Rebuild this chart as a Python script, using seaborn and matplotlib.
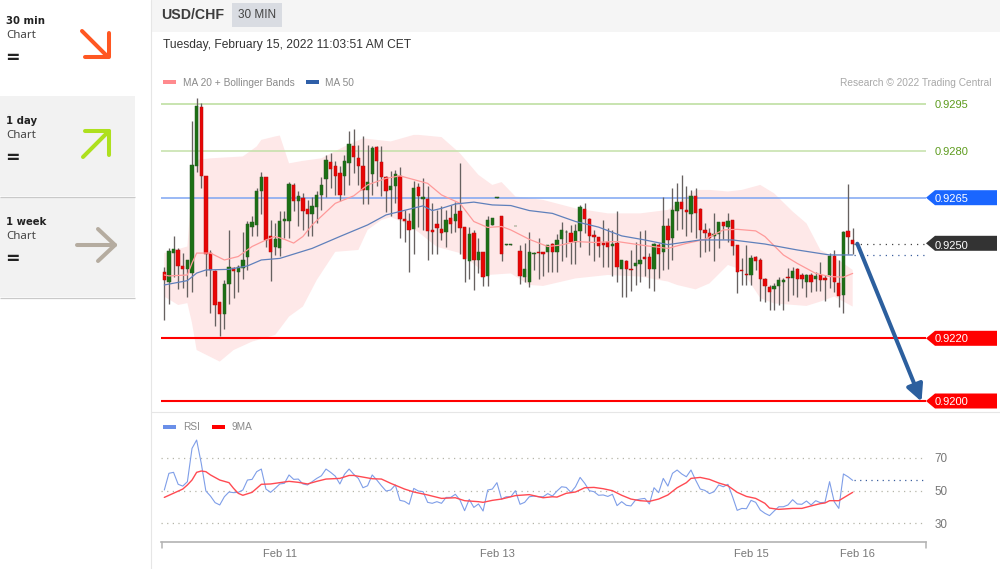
import numpy as np
import pandas as pd
import matplotlib
matplotlib.use("Agg")
import matplotlib.pyplot as plt
from matplotlib.patches import Rectangle, Polygon
import seaborn as sns

# ---- data: quotes in 1e-5 CHF ----
open_pts = [92411,92382,92474,92483,92432,92422,92409,92750,92940,92720,
92473,92417,92317,92278,92374,92425,92414,92425,92459,92558,
92563,92670,92716,92528,92492,92490,92575,92575,92690,92641,
92648,92613,92597,92620,92659,92710,92763,92750,92728,92718,
92760,92817,92776,92750,92675,92726,92812,92763,92715,92675,
92686,92720,92582,92576,92550,92684,92646,92646,92547,92565,
92551,92540,92584,92576,92606,92555,92448,92536,92450,92476,
92400,92563,92650,92590,92500,92500,92560,92480,92398,92382,
92470,92477,92478,92478,92502,92478,92518,92540,92536,92510,
92544,92614,92581,92531,92523,92504,92508,92496,92504,92423,
92447,92422,92433,92439,92459,92461,92423,92500,92477,92559,
92521,92609,92636,92611,92599,92654,92614,92546,92537,92529,
92533,92573,92558,92579,92499,92419,92405,92403,92459,92451,
92391,92366,92359,92369,92379,92398,92394,92421,92403,92380,
92404,92391,92402,92394,92402,92465,92378,92339,92544,92516]
close_pts = [92387,92480,92486,92432,92422,92450,92755,92942,92721,92470,
92419,92308,92278,92374,92428,92416,92430,92451,92566,92573,
92673,92715,92515,92476,92518,92575,92581,92694,92641,92654,
92606,92597,92624,92660,92691,92771,92741,92720,92660,92768,
92821,92780,92750,92675,92699,92808,92766,92716,92673,92688,
92725,92581,92575,92547,92680,92654,92651,92545,92540,92552,
92536,92579,92567,92598,92553,92453,92534,92450,92476,92398,
92579,92584,92653,92469,92501,92501,92561,92400,92422,92478,
92474,92472,92469,92499,92478,92515,92546,92542,92510,92544,
92619,92582,92529,92523,92497,92499,92493,92503,92429,92451,
92423,92418,92440,92450,92455,92423,92502,92471,92560,92515,
92611,92636,92613,92604,92656,92600,92547,92537,92520,92534,
92572,92559,92576,92496,92413,92416,92402,92456,92449,92389,
92369,92350,92369,92387,92387,92392,92415,92391,92389,92403,
92382,92400,92386,92387,92464,92379,92336,92542,92523,92503]
high_pts = [92430,92489,92528,92489,92473,92451,92894,92968,92952,92720,
92483,92419,92317,92387,92547,92430,92435,92539,92577,92592,
92680,92732,92716,92579,92568,92606,92606,92699,92696,92670,
92664,92643,92652,92670,92716,92787,92792,92768,92750,92787,
92862,92869,92819,92849,92819,92816,92814,92817,92720,92734,
92739,92748,92611,92600,92702,92696,92712,92686,92632,92611,
92622,92611,92627,92635,92760,92555,92556,92547,92520,92478,
92593,92584,92653,92590,92501,92501,92561,92499,92504,92540,
92478,92520,92478,92499,92504,92534,92574,92547,92563,92566,
92627,92632,92584,92547,92526,92579,92552,92547,92606,92451,
92451,92483,92507,92544,92547,92472,92504,92504,92651,92584,
92680,92698,92723,92686,92675,92680,92616,92568,92552,92600,
92574,92574,92600,92579,92499,92456,92499,92467,92464,92456,
92392,92371,92376,92398,92392,92424,92430,92424,92408,92406,
92408,92411,92446,92403,92472,92483,92451,92545,92693,92552]
low_pts = [92259,92310,92398,92358,92361,92331,92350,92731,92680,92400,
92281,92240,92209,92230,92310,92329,92350,92389,92419,92529,
92529,92598,92492,92383,92467,92465,92521,92521,92606,92560,
92547,92529,92529,92568,92611,92652,92680,92659,92641,92659,
92691,92728,92691,92630,92630,92659,92686,92654,92603,92590,
92632,92521,92510,92411,92470,92558,92547,92451,92470,92470,
92515,92491,92536,92542,92470,92380,92389,92355,92408,92369,
92369,92563,92650,92449,92500,92500,92560,92373,92380,92366,
92419,92389,92400,92411,92411,92411,92449,92460,92438,92438,
92491,92536,92467,92449,92460,92430,92430,92400,92380,92331,
92331,92352,92371,92380,92400,92360,92352,92392,92419,92421,
92451,92547,92550,92529,92542,92520,92460,92478,92480,92449,
92488,92518,92510,92467,92344,92371,92371,92371,92419,92320,
92318,92291,92291,92307,92291,92320,92339,92334,92360,92331,
92350,92353,92353,92320,92360,92348,92302,92280,92470,92469]

upper_idx = [0,5,6,7,10,17,20,21,24,25,27,30,34,39,43,49,54,55,60,64,68,71,73,76,82,89,96,103,109,115,118,122,125,129,132,136,139,142,145,147,149]
upper_pts = [92473,92494,92686,92771,92776,92782,92814,92835,92846,92849,92760,92768,92776,92814,92840,92830,92851,92851,92844,92792,92723,92691,92700,92654,92643,92616,92600,92600,92611,92675,92675,92670,92675,92691,92664,92606,92568,92483,92460,92440,92419]
lower_idx = [0,3,5,6,7,12,15,19,24,27,30,33,37,42,44,47,49,52,55,59,64,70,75,79,82,89,96,103,109,111,115,118,122,125,129,132,139,142,145,149]
lower_pts = [92334,92307,92313,92249,92163,92126,92163,92190,92211,92270,92302,92387,92477,92483,92547,92579,92588,92570,92540,92493,92473,92403,92408,92371,92368,92392,92403,92398,92382,92371,92357,92376,92435,92419,92329,92312,92304,92318,92334,92302]
ma20_idx = [0,1,5,6,7,10,13,16,19,22,24,26,28,30,32,37,41,44,48,51,54,57,60,64,67,70,73,75,79,83,86,89,93,98,104,109,113,117,121,124,128,130,134,137,141,144,147,149]
ma20_pts = [92403,92400,92403,92441,92473,92473,92451,92462,92494,92515,92526,92517,92505,92526,92563,92632,92656,92691,92712,92720,92708,92696,92659,92632,92574,92555,92558,92547,92517,92494,92499,92510,92507,92510,92497,92488,92504,92517,92547,92549,92544,92526,92467,92440,92408,92398,92396,92408]
ma50_idx = [0,5,7,9,14,18,21,25,32,38,44,48,54,56,58,60,63,67,71,75,79,84,89,94,99,104,109,116,123,130,137,144,149]
ma50_pts = [92371,92385,92409,92419,92421,92432,92451,92456,92488,92526,92563,92595,92617,92624,92609,92616,92630,92636,92627,92625,92609,92600,92574,92556,92528,92515,92500,92515,92515,92502,92483,92467,92467]

rsi_vals = [50.4,60.6,61.2,53.9,52.8,55.5,75.8,80.9,66.7,49.8,46.7,42.7,41.3,46.3,49.2,48.8,49.0,50.4,56.5,56.9,
61.6,63.2,51.0,49.0,51.4,54.1,54.5,59.6,56.9,57.1,54.1,53.5,55.5,57.5,59.1,63.2,61.2,58.9,54.1,60.0,
63.2,60.0,57.5,51.8,53.0,59.6,56.5,53.0,49.8,50.4,53.5,44.1,43.5,41.7,51.4,49.8,49.4,42.9,42.3,43.3,
42.3,45.9,45.9,47.8,44.3,37.8,44.7,39.8,41.9,37.6,50.4,51.0,54.9,44.9,46.3,46.3,50.0,41.7,42.9,46.3,
46.7,46.3,46.3,48.2,46.7,49.8,52.4,52.0,49.0,52.4,58.1,54.5,50.0,49.4,47.2,47.4,46.5,47.8,40.9,43.3,
41.1,40.7,44.3,44.9,45.3,41.9,51.8,48.8,57.5,52.8,60.6,62.6,60.2,58.5,62.6,56.5,51.0,50.2,48.2,49.4,
53.5,52.4,53.9,46.3,38.0,39.2,39.0,44.1,42.9,38.2,36.2,34.8,37.6,40.2,40.2,41.3,44.5,41.9,41.7,43.7,
41.3,43.9,42.7,42.9,55.5,43.3,39.2,60.2,58.5,56.3]
rsi_ma_idx = [0,4,5,6,7,8,9,10,12,14,15,16,17,19,21,23,25,27,29,31,33,35,38,40,41,43,45,47,49,52,54,57,60,63,65,68,69,71,73,76,79,82,84,85,87,89,91,93,95,97,99,101,103,105,107,109,111,113,114,116,118,120,122,124,126,128,130,131,133,136,138,140,142,143,144,146,149]
rsi_ma_vals = [45.9,51.0,53.5,56.5,61.2,62.0,61.6,59.6,56.5,54.9,51.4,48.4,47.2,49.0,53.9,54.1,54.9,55.7,55.1,54.1,55.7,57.1,57.5,59.3,59.3,58.3,57.3,57.1,54.5,51.0,49.2,47.4,45.3,45.7,43.9,43.3,42.9,44.1,44.9,47.0,47.6,45.7,46.3,46.1,48.4,49.2,51.8,52.0,51.2,50.0,47.2,44.9,43.9,43.5,44.9,47.4,51.8,54.9,57.5,58.1,56.9,54.7,53.0,49.0,46.5,45.3,42.3,39.4,38.6,39.2,39.2,40.7,42.1,42.5,43.9,43.9,49.0]

level_vals = [0.9295, 0.9280, 0.9265, 0.9250, 0.9220, 0.9200]
level_labels = ["0.9295", "0.9280", "0.9265", "0.9250", "0.9220", "0.9200"]
rsi_ticks = [70, 50, 30]
date_ticks = [25, 72, 127, 150]
date_labels = ["Feb 11", "Feb 13", "Feb 15", "Feb 16"]
last_ma50 = 0.92467

# ---- figure ----
sns.set_theme(style="white")
plt.rcParams["font.family"] = ["Liberation Sans", "DejaVu Sans"]
GREY = "#8a8a8a"
fig = plt.figure(figsize=(10, 5.69), dpi=100, facecolor="white")
W, H = 1000, 569
def rect(l, t, r, b):
    return [l / W, 1 - b / H, (r - l) / W, (b - t) / H]

# chrome layer in pixel coordinates
bg = fig.add_axes([0, 0, 1, 1], zorder=0)
bg.set_xlim(0, W); bg.set_ylim(H, 0); bg.axis("off")
bg.add_patch(Rectangle((151, 0), 849, 32, color="#f5f5f5", lw=0))
bg.add_patch(Rectangle((232, 3), 50, 24, color="#d9dce2", lw=0))
bg.add_patch(Rectangle((0, 96), 135, 100, color="#f2f2f2", lw=0))
bg.add_patch(Rectangle((0, 197), 135, 100, color="#f2f2f2", lw=0))
bg.plot([0, 135], [196.5, 196.5], color="#c9c9c9", lw=0.9, solid_capstyle="butt")
bg.plot([0, 135], [297.5, 297.5], color="#c9c9c9", lw=0.9, solid_capstyle="butt")
bg.plot([150.5, 150.5], [0, H], color="#e6e6e6", lw=0.8)
bg.plot([151, 1000], [411.5, 411.5], color="#e6e6e6", lw=0.8)

bg.text(161, 15, "USD/CHF", fontsize=10.2, fontweight="bold", color="#3d3d3d", va="center")
bg.text(257, 15, "30 MIN", fontsize=8.5, color="#444444", va="center", ha="center")
bg.text(163, 44.5, "Tuesday, February 15, 2022 11:03:51 AM CET", fontsize=8.65, color="#333333", va="center")

bg.add_patch(Rectangle((163, 80), 13, 4, color="#ff8a8e", lw=0))
bg.text(183, 82.5, "MA 20 + Bollinger Bands", fontsize=7.3, color=GREY, va="center")
bg.add_patch(Rectangle((306, 80), 13, 4, color="#2f5fa8", lw=0))
bg.text(325, 82.5, "MA 50", fontsize=7.3, color=GREY, va="center")
bg.text(991, 82.5, "Research © 2022 Trading Central", fontsize=7.25, color="#a8a8a8", va="center", ha="right")
bg.add_patch(Rectangle((163, 425), 13, 4, color="#6a8fe8", lw=0))
bg.text(183, 427, "RSI", fontsize=7.3, color=GREY, va="center")
bg.add_patch(Rectangle((212, 425), 13, 4, color="#ff0000", lw=0))
bg.text(232, 427, "9MA", fontsize=7.3, color=GREY, va="center")

for t, label in [(0, "30 min"), (100, "1 day"), (201, "1 week")]:
    bg.text(6.5, t + 21, label, fontsize=7.3, fontweight="bold", family="DejaVu Sans", color="#222222", va="center")
    bg.text(6.5, t + 35, "Chart", fontsize=8.3, family="Noto Sans", color="#444444", va="center")
    bg.text(5.5, t + 58, "=", fontsize=12.5, fontweight="bold", family="DejaVu Sans", color="#222222", va="center")

def icon(pts, color):
    for seg in pts:
        xs, ys = zip(*seg)
        bg.plot(xs, ys, color=color, lw=2.9, solid_capstyle="round", solid_joinstyle="round")
icon([[(82, 31), (108, 57)], [(85, 57), (109, 57), (109, 33)]], "#ff5722")
icon([[(83, 157), (109, 131)], [(85, 131), (109, 131), (109, 155)]], "#aee01e")
icon([[(77, 245), (115, 245)], [(98, 229), (115, 245), (98, 261)]], "#b5aca0")

def tag(yc, color):
    bg.add_patch(Polygon([(926, yc), (935, yc - 7.5), (997, yc - 7.5), (997, yc + 7.5), (935, yc + 7.5)],
                         closed=True, color=color, lw=0))
tag(197.7, "#1a66ff"); tag(243.3, "#333333"); tag(338.3, "#ff0000"); tag(401, "#ff0000")

# price pane
ax = fig.add_axes(rect(161, 32, 926, 411), zorder=2)
ax.patch.set_alpha(0)
ax.set_xlim(-0.714, 164.87)
ax.set_ylim(0.91968, 0.93180)

o, c = np.array(open_pts) / 1e5, np.array(close_pts) / 1e5
h, l = np.array(high_pts) / 1e5, np.array(low_pts) / 1e5
idx = np.arange(len(o))

ax.fill(np.r_[upper_idx, lower_idx[::-1]],
        np.r_[upper_pts, lower_pts[::-1]] / 1e5, color="#fee8e8", lw=0, zorder=1)

for val, col, lw in [(0.9295, "#b9dd9a", 1.1), (0.9280, "#c3e0a8", 1.1), (0.9265, "#7ea5f2", 1.1),
                     (0.9220, "#ff0000", 1.5), (0.9200, "#ff0000", 1.5)]:
    ax.axhline(val, color=col, lw=lw, zorder=2)

ax.vlines(idx, l, h, color="#666160", lw=0.95, zorder=3)
up = c >= o
ax.bar(idx, np.abs(c - o), bottom=np.minimum(o, c), width=0.72,
       color=np.where(up, "#1c7014", "#e80505"),
       edgecolor=np.where(up, "#2a5a25", "#b01010"), linewidth=0.35, zorder=4)

sns.lineplot(x=np.array(ma20_idx), y=np.array(ma20_pts) / 1e5, ax=ax, color="#ff9a9a", lw=0.9,
             estimator=None, legend=False, zorder=5)
sns.lineplot(x=np.array(ma50_idx), y=np.array(ma50_pts) / 1e5, ax=ax, color="#5f80bb", lw=0.9,
             estimator=None, legend=False, zorder=5)

ax.plot([149.3, 164.87], [c[-1], c[-1]], color="#444444", lw=0.9, ls=(0, (1, 4)), zorder=3)
ax.plot([149.3, 164.87], [last_ma50, last_ma50], color="#3b5f9e", lw=0.9, ls=(0, (1, 4)), zorder=3)

ax.annotate("", xy=(163.9, 0.91998), xytext=(150.0, 0.92503),
            arrowprops=dict(arrowstyle="-|>,head_length=1.0,head_width=0.5", color="#2c5f9e", lw=2.9,
                            mutation_scale=10, shrinkA=0, shrinkB=0), zorder=6)

ax.set_xticks([])
ax.yaxis.tick_right()
ax.set_yticks(level_vals, labels=level_labels)
for lab, col in zip(ax.get_yticklabels(), ["#5d9b1d", "#5d9b1d", "white", "white", "white", "white"]):
    lab.set_color(col)
ax.tick_params(axis="y", length=0, pad=6.2, labelsize=8.0)
for s in ax.spines.values():
    s.set_visible(False)
ax.set_xlabel(""); ax.set_ylabel("")

# RSI pane
ax2 = fig.add_axes(rect(161, 412, 926, 542), zorder=2)
ax2.patch.set_alpha(0)
ax2.set_xlim(-0.714, 164.87)
ax2.set_ylim(18.7, 98)
for val in rsi_ticks:
    ax2.axhline(val, color="#b5b5a8", lw=0.9, ls=(0, (1, 3.5)), zorder=1)
rsi_df = pd.DataFrame({"i": idx, "rsi": rsi_vals})
sns.lineplot(data=rsi_df, x="i", y="rsi", ax=ax2, color="#7f9ee8", lw=0.8, estimator=None, legend=False, zorder=3)
sns.lineplot(x=np.array(rsi_ma_idx), y=np.array(rsi_ma_vals), ax=ax2, color="#ff4a52", lw=1.0,
             estimator=None, legend=False, zorder=4)
ax2.plot([149.3, 164.87], [rsi_vals[-1]] * 2, color="#3b5f9e", lw=0.9, ls=(0, (1, 3.5)), zorder=2)
ax2.yaxis.tick_right()
ax2.set_yticks(rsi_ticks, labels=[str(v) for v in rsi_ticks])
ax2.set_xticks(date_ticks, labels=date_labels)
ax2.tick_params(axis="y", length=0, pad=6.2, labelsize=8.4, colors="#777777")
ax2.tick_params(axis="x", length=0, pad=5, labelsize=8, colors="#777777")
ax2.set_xlabel(""); ax2.set_ylabel("")
for k, s in ax2.spines.items():
    s.set_visible(k == "bottom")
ax2.spines["bottom"].set_color("#b3b3b3")
ax2.spines["bottom"].set_linewidth(1.2)
bg.plot([161.5, 161.5], [542, 548], color="#b3b3b3", lw=1.1)
bg.plot([925.5, 925.5], [542, 548], color="#b3b3b3", lw=1.1)

fig.savefig("out.png", dpi=100)
